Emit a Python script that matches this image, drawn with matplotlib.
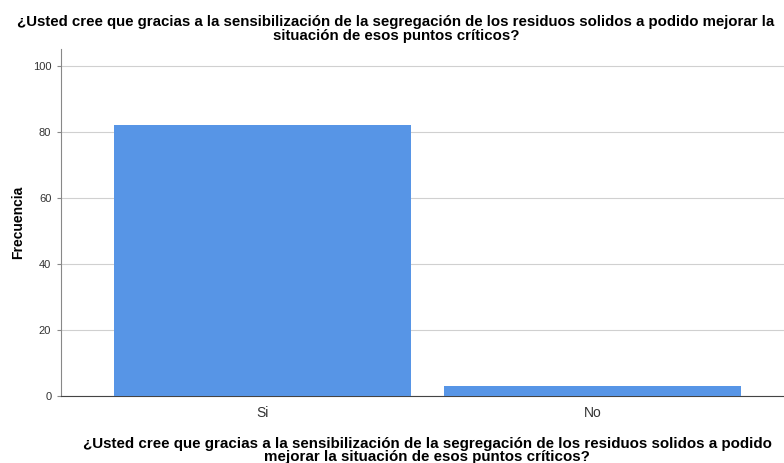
import matplotlib
matplotlib.use("Agg")
import matplotlib.pyplot as plt

categories = ["Si", "No"]
values = [82, 3]
yticks = [0, 20, 40, 60, 80, 100]
title = "¿Usted cree que gracias a la sensibilización de la segregación de los residuos solidos a podido mejorar la\nsituación de esos puntos críticos?"
xlabel = "¿Usted cree que gracias a la sensibilización de la segregación de los residuos solidos a podido\nmejorar la situación de esos puntos críticos?"

plt.rcParams['font.family'] = ['Liberation Sans', 'DejaVu Sans']
fig = plt.figure(figsize=(7.84, 4.63), dpi=100)
W, H = 784, 463
ax = fig.add_axes([61 / W, 1 - 396 / H, (784 - 61) / W, (396 - 49) / H])
x = range(len(categories))
ax.bar(x, values, width=0.9, color='#5795E6', zorder=3)
ax.set_xlim(-0.612, 1.579)
ax.set_ylim(0, 105)
ax.set_yticks(yticks)
ax.set_yticklabels([str(t) for t in yticks], fontsize=8, color='#333333')
ax.set_xticks(list(x))
ax.set_xticklabels(categories, fontsize=10, color='#333333')
ax.tick_params(axis='x', length=0, pad=7)
ax.tick_params(axis='y', length=3, color='#888888', pad=4)
ax.grid(axis='y', color='#d0d0d0', linewidth=0.8, zorder=0)
for s in ['top', 'right']:
    ax.spines[s].set_visible(False)
ax.spines['left'].set_color('#888888')
ax.spines['bottom'].set_color('#444444')
ax.set_ylabel('Frecuencia', fontsize=10, fontweight='bold')
ax.yaxis.set_label_coords((25 - 61) / (784 - 61), 0.5)
fig.text(396 / W, 1 - 29 / H, title, ha='center', va='center', fontsize=10.8,
         fontweight='bold', linespacing=1.0)
fig.text(427 / W, 1 - 450.5 / H, xlabel, ha='center', va='center', fontsize=10.9,
         fontweight='bold', linespacing=0.95)
fig.savefig('out.png', dpi=100)
